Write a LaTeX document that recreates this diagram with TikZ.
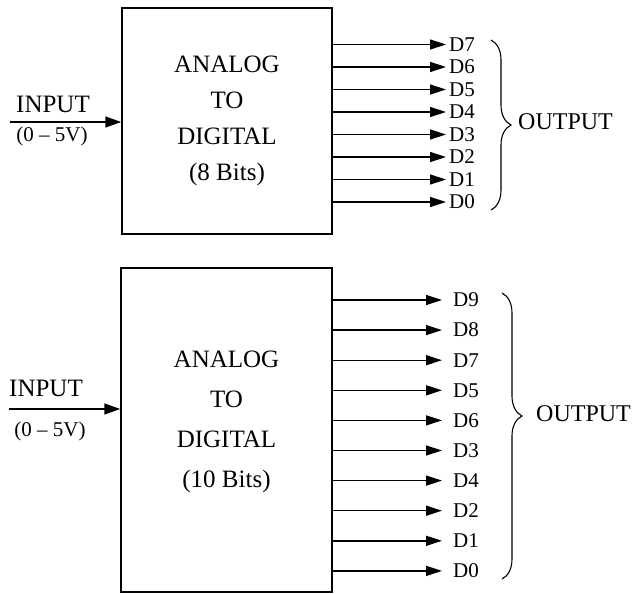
\documentclass[tikz,border=0pt]{standalone}
\usepackage{fontspec}
\setmainfont{Liberation Serif}
\usetikzlibrary{arrows.meta, positioning, decorations.pathreplacing}
\tikzset{adcbox/.style={draw, line width=1.5pt, inner sep=0pt},
    boxtext/.style={align=center, font=\fontsize{25}{#1}\selectfont},
    sig/.style={line width=1.4pt, -{Triangle[length=16pt,width=10pt]}},
    insig/.style={line width=1.5pt, -{Triangle[length=16pt,width=11pt]}},
    bitlabel/.style={anchor=west, inner ysep=0pt, inner xsep=#1,
        font=\fontsize{21}{24}\selectfont},
    bitlabel/.default=3pt,
    intext/.style={font=\fontsize{25}{28}\selectfont, inner sep=0pt},
    rangetext/.style={font=\fontsize{21}{24}\selectfont, inner sep=0pt},
    bracket/.style={line width=1.1pt, decorate,
        decoration={brace, amplitude=20pt, aspect=#1}},
    outtext/.style={anchor=west, font=\fontsize{24}{28}\selectfont, inner sep=0pt}}

\begin{document}
\begin{tikzpicture}[x=1pt, y=-1pt]
    \useasboundingbox (0,0) rectangle (635,594);
    % 8 bit converter
    \node[adcbox, minimum width=210pt, minimum height=226pt] (adcA) at (227,121) {};
    \node[boxtext=36pt] (nameA) at (adcA.center) {ANALOG\\TO\\DIGITAL\\(8 Bits)};
    \coordinate (inA) at (10,122);
    \draw[insig] (inA) -- (inA -| adcA.west);
    \node[intext] (inputA) at (53,104) {INPUT};
    \node[rangetext] (rangeA) at (52,136) {(0 \textendash\ 5V)};
    \foreach \n [count=\i from 0] in {7,6,5,4,3,2,1,0} {
        \node[bitlabel] (bitA\i) at (446,44.5+22.5*\i) {D\n};
        \draw[sig] (adcA.east |- bitA\i) -- (bitA\i.west);
    }
    \coordinate (braceAtop) at (491,40);
    \coordinate (braceAbot) at (491,210);
    \draw[bracket=0.5] (braceAtop) -- (braceAbot);
    \node[outtext] (outA) at (518,122) {OUTPUT};

    % 10 bit converter
    \node[adcbox, minimum width=211pt, minimum height=324pt] (adcB) at (226.5,430) {};
    \node[boxtext=40pt] (nameB) at (226.5,422) {ANALOG\\TO\\DIGITAL\\(10 Bits)};
    \coordinate (inB) at (9,409);
    \draw[insig] (inB) -- (inB -| adcB.west);
    \node[intext] (inputB) at (46,388) {INPUT};
    \node[rangetext] (rangeB) at (50,431) {(0 \textendash\ 5V)};
    \foreach \n [count=\i from 0] in {9,8,7,5,6,3,4,2,1,0} {
        \node[bitlabel=11pt] (bitB\i) at (442,300+30.1*\i) {D\n};
        \draw[sig] (adcB.east |- bitB\i) -- (bitB\i.west);
    }
    \coordinate (braceBtop) at (502,293);
    \coordinate (braceBbot) at (502,579);
    \draw[bracket=0.43] (braceBtop) -- (braceBbot);
    \node[outtext] (outB) at (536,414) {OUTPUT};
\end{tikzpicture}
\end{document}
